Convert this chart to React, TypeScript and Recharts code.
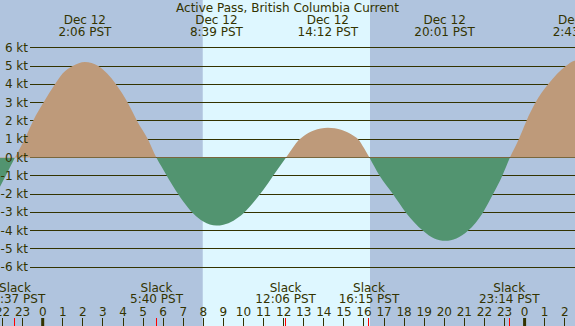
import React from "react";
import { ComposedChart, Area, XAxis, YAxis, ReferenceArea, ReferenceLine } from "recharts";

const TITLE = "Active Pass, British Columbia Current";

const hourTicks = [-2, -1, 0, 1, 2, 3, 4, 5, 6, 7, 8, 9, 10, 11, 12, 13, 14, 15, 16, 17, 18, 19, 20, 21, 22, 23, 24, 25, 26];
const hourLabels = ["22", "23", "0", "1", "2", "3", "4", "5", "6", "7", "8", "9", "10", "11", "12", "13", "14", "15", "16", "17", "18", "19", "20", "21", "22", "23", "0", "1", "2"];

const speedTicks = [-6, -5, -4, -3, -2, -1, 0, 1, 2, 3, 4, 5, 6];
const speedLabels = ["-6 kt", "-5 kt", "-4 kt", "-3 kt", "-2 kt", "-1 kt", "0 kt", "1 kt", "2 kt", "3 kt", "4 kt", "5 kt", "6 kt"];

// hours after midnight Dec 12 (PST) and current speed in knots (flood +, ebb -)
const times = [
  -2.5, -2.13, -1.38, -0.9, -0.48, 0.04, 0.61, 1.0, 1.49, 2.1, 2.77, 3.2, 3.65, 4.23, 4.7, 5.24, 5.66,
  6.0, 6.5, 7.0, 7.5, 8.0, 8.65, 9.0, 9.5, 10.0, 10.5, 11.0, 11.5, 12.12,
  12.5, 12.75, 13.0, 13.5, 14.2, 14.9, 15.4, 15.71, 16.0, 16.27,
  16.78, 17.44, 18.08, 18.94, 19.5, 20.05, 20.6, 21.18, 21.93, 22.43, 22.89, 23.27,
  23.71, 24.09, 24.54, 25.17, 26.05, 26.49, 26.72,
];
const speeds = [
  -2.35, -1.6, 0, 1, 2, 3, 4, 4.6, 5, 5.22, 5, 4.6, 4, 3, 2, 1, 0,
  -0.65, -1.58, -2.4, -3.06, -3.5, -3.72, -3.67, -3.45, -3.05, -2.45, -1.75, -0.95, 0,
  0.6, 0.95, 1.18, 1.48, 1.63, 1.5, 1.25, 1.0, 0.52, 0,
  -1, -2, -3, -4, -4.42, -4.55, -4.42, -4, -3, -2, -1, 0,
  1, 2, 3, 4, 5, 5.29, 5.32,
];

const maxTimes = [2.1, 8.65, 14.2, 20.017, 26.717];
const maxDates = ["Dec 12", "Dec 12", "Dec 12", "Dec 12", "Dec 13"];
const maxLabels = ["2:06 PST", "8:39 PST", "14:12 PST", "20:01 PST", "2:43 PST"];

const slackTimes = [-1.383, 5.667, 12.1, 16.25, 23.233];
const slackNames = ["Slack", "Slack", "Slack", "Slack", "Slack"];
const slackLabels = ["22:37 PST", "5:40 PST", "12:06 PST", "16:15 PST", "23:14 PST"];

const sunrise = 7.97;
const sunset = 16.3;

const xDomain = [-2.127, 26.51];
const yDomain = [-9.208, 8.607];

const W = 575;
const H = 326;
const FONT = "DejaVu Sans";
const INK = "#333300";
const NIGHT = "#B0C4DE";
const DAY = "#DEF7FF";
const FLOOD = "#BE9A7A";
const EBB = "#529470";

const data = times.map((t, i) => ({ t, v: speeds[i] }));
const vMax = Math.max(...speeds);
const vMin = Math.min(...speeds);
const splitOffset = vMax / (vMax - vMin);

function HourTick(props: any) {
  const { x, y, payload } = props;
  const i = hourTicks.indexOf(payload.value);
  const label = hourLabels[i];
  const midnight = label === "0";
  return (
    <g>
      <text x={x} y={y - 10} textAnchor="middle" fontFamily={FONT} fontSize={12} fill={INK}>
        {label}
      </text>
      {midnight ? (
        <rect x={x - 1.5} y={y - 8} width={3} height={8} fill={INK} />
      ) : (
        <line x1={x} x2={x} y1={y - 8} y2={y} stroke={INK} strokeWidth={1} shapeRendering="crispEdges" />
      )}
    </g>
  );
}

function SpeedTick(props: any) {
  const { x, y, payload } = props;
  const i = speedTicks.indexOf(payload.value);
  return (
    <text x={x + 28} y={y + 4} textAnchor="end" fontFamily={FONT} fontSize={12} fill={INK}>
      {speedLabels[i]}
    </text>
  );
}

function GridLine(props: any) {
  const left = Math.min(props.x1, props.x2);
  const right = Math.max(props.x1, props.x2);
  return (
    <line x1={left + 30} x2={right} y1={props.y1} y2={props.y2} stroke={INK} strokeWidth={1} shapeRendering="crispEdges" />
  );
}

function makeTopLabel(i: number) {
  return (props: any) => {
    const x = props.x1;
    const top = Math.min(props.y1, props.y2);
    return (
      <g>
        <text x={x} y={top + 24} textAnchor="middle" fontFamily={FONT} fontSize={12} fill={INK}>
          {maxDates[i]}
        </text>
        <text x={x} y={top + 36} textAnchor="middle" fontFamily={FONT} fontSize={12} fill={INK}>
          {maxLabels[i]}
        </text>
      </g>
    );
  };
}

function makeSlackLabel(i: number) {
  return (props: any) => {
    const x = props.x1;
    const bottom = Math.max(props.y1, props.y2);
    return (
      <g>
        <text x={x} y={bottom - 34.5} textAnchor="middle" fontFamily={FONT} fontSize={12} fill={INK}>
          {slackNames[i]}
        </text>
        <text x={x} y={bottom - 22.7} textAnchor="middle" fontFamily={FONT} fontSize={12} fill={INK}>
          {slackLabels[i]}
        </text>
        <line x1={x} x2={x} y1={bottom - 8} y2={bottom} stroke="#FF0000" strokeWidth={1} shapeRendering="crispEdges" />
      </g>
    );
  };
}

export default function App() {
  return (
    <div
      style={{
        position: "absolute",
        left: 0,
        top: 0,
        width: W,
        height: H,
        background: NIGHT,
        overflow: "hidden",
      }}
    >
      <ComposedChart width={W} height={H} data={data} margin={{ top: 0, right: 0, bottom: 0, left: 0 }}>
        <defs>
          <linearGradient id="flowFill" x1="0" y1="0" x2="0" y2="1">
            <stop offset={splitOffset} stopColor={FLOOD} stopOpacity={1} />
            <stop offset={splitOffset} stopColor={EBB} stopOpacity={1} />
          </linearGradient>
        </defs>
        <ReferenceArea
          x1={sunrise}
          x2={sunset}
          fill={DAY}
          fillOpacity={1}
          stroke="none"
          ifOverflow="visible"
          zIndex={-90}
        />
        {speedTicks.map((k) => (
          <ReferenceLine key={"g" + k} y={k} stroke={INK} shape={GridLine} zIndex={-80} />
        ))}
        <Area
          type="monotone"
          dataKey="v"
          stroke="none"
          fill="url(#flowFill)"
          fillOpacity={1}
          baseValue={0}
          dot={false}
          activeDot={false}
          isAnimationActive={false}
        />
        {maxTimes.map((t, i) => (
          <ReferenceLine key={"m" + i} x={t} stroke="none" ifOverflow="visible" shape={makeTopLabel(i)} zIndex={2000} />
        ))}
        {slackTimes.map((t, i) => (
          <ReferenceLine key={"s" + i} x={t} stroke="none" ifOverflow="visible" shape={makeSlackLabel(i)} zIndex={2000} />
        ))}
        <XAxis
          dataKey="t"
          type="number"
          domain={xDomain}
          allowDataOverflow
          ticks={hourTicks}
          interval={0}
          tick={<HourTick />}
          tickLine={false}
          axisLine={false}
          tickSize={0}
          tickMargin={0}
          mirror
        />
        <YAxis
          type="number"
          domain={yDomain}
          allowDataOverflow
          ticks={speedTicks}
          interval={0}
          tick={<SpeedTick />}
          tickLine={false}
          axisLine={false}
          tickSize={0}
          tickMargin={0}
          mirror
        />
      </ComposedChart>
      <div
        style={{
          position: "absolute",
          left: 0,
          top: 1,
          width: W,
          textAlign: "center",
          fontFamily: FONT,
          fontSize: 12,
          lineHeight: "14px",
          color: INK,
          whiteSpace: "nowrap",
        }}
      >
        {TITLE}
      </div>
    </div>
  );
}
